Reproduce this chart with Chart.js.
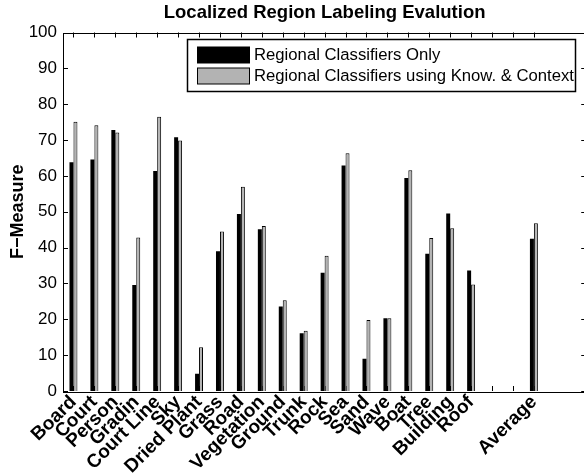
<!DOCTYPE html>
<html><head><meta charset="utf-8">
<script src="https://cdn.jsdelivr.net/npm/chart.js@4.4.1/dist/chart.umd.min.js"></script>
<style>
html,body{margin:0;padding:0;background:#fff;overflow:hidden}
#wrap{width:584px;height:474px;overflow:hidden;position:relative;background:#fff}
canvas{display:block}
</style></head>
<body><div id="wrap"><canvas id="c" width="592" height="474"></canvas></div>
<script>
const categories = ['Board','Court','Person','Gradin','Court Line','Sky','Dried Plant','Grass','Road','Vegetation','Ground','Trunk','Rock','Sea','Sand','Wave','Boat','Tree','Building','Roof','','','Average','',''];
const regionalOnly = [63.8,64.6,72.8,29.6,61.4,70.8,4.8,39.0,49.4,45.1,23.6,16.1,33.0,62.9,9.0,20.3,59.4,38.3,49.5,33.6,null,null,42.5,null,null];
const withKnowContext = [75.1,74.1,72.1,42.8,76.5,69.9,12.2,44.5,57.0,46.0,25.3,16.8,37.7,66.3,19.8,20.3,61.6,42.7,45.4,29.7,null,null,46.8,null,null];
const seriesNames = ['Regional Classifiers Only','Regional Classifiers using Know. & Context'];
const yTickValues = [0,10,20,30,40,50,60,70,80,90,100];
const xTickCount = 23;

const FONT = '"Liberation Sans", Arial, Helvetica, sans-serif';

const framePlugin = {
  id: 'frame',
  beforeDatasetsDraw(chart) {
    const {ctx, chartArea: a, scales: {x, y}} = chart;
    ctx.save();
    ctx.strokeStyle = '#000';
    ctx.lineWidth = 1;
    ctx.beginPath();
    const tl = 5;
    yTickValues.forEach(v => {
      const py = Math.round(y.getPixelForValue(v)) + 0.5;
      ctx.moveTo(a.left, py); ctx.lineTo(a.left + tl, py);
      ctx.moveTo(a.right, py); ctx.lineTo(a.right - tl, py);
    });
    for (let i = 0; i < xTickCount; i++) {
      const px = Math.round(x.getPixelForValue(i)) + 0.5;
      ctx.moveTo(px, a.bottom); ctx.lineTo(px, a.bottom - tl);
      ctx.moveTo(px, a.top); ctx.lineTo(px, a.top + tl);
    }
    ctx.stroke();
    ctx.restore();
  },
  afterDatasetsDraw(chart) {
    const {ctx, chartArea: a} = chart;
    ctx.save();
    ctx.strokeStyle = '#000';
    ctx.lineWidth = 1;
    ctx.strokeRect(Math.round(a.left) + 0.5, Math.round(a.top) + 0.5,
      Math.round(a.right - a.left), Math.round(a.bottom - a.top));
    ctx.restore();
  }
};

const legendPlugin = {
  id: 'boxLegend',
  afterDraw(chart) {
    const ctx = chart.ctx;
    const bx = 187.5, by = 39.5, bw = 388, bh = 52;
    ctx.save();
    ctx.fillStyle = '#fff';
    ctx.fillRect(bx, by, bw, bh);
    ctx.strokeStyle = '#000';
    ctx.lineWidth = 1.5;
    ctx.strokeRect(bx, by, bw, bh);
    ctx.font = '16.7px ' + FONT;
    ctx.textBaseline = 'middle';
    chart.data.datasets.forEach((ds, i) => {
      const cy = by + 15.5 + i * 21;
      ctx.fillStyle = ds.backgroundColor;
      ctx.fillRect(197.5, cy - 8, 52, 16);
      ctx.lineWidth = 1;
      ctx.strokeStyle = '#000';
      ctx.strokeRect(197.5, cy - 8, 52, 16);
      ctx.fillStyle = '#000';
      ctx.fillText(ds.label, 254, cy + 0.5);
    });
    ctx.restore();
  }
};

new Chart(document.getElementById('c'), {
  type: 'bar',
  data: {
    labels: categories,
    datasets: [
      {label: seriesNames[0], data: regionalOnly, backgroundColor: '#000', borderWidth: 0},
      {label: seriesNames[1], data: withKnowContext, backgroundColor: '#b3b3b3', borderColor: '#000', borderWidth: 1}
    ]
  },
  options: {
    responsive: false,
    animation: false,
    events: [],
    layout: {padding: {left: 0, right: 4, top: 0, bottom: 0}},
    datasets: {bar: {categoryPercentage: 0.38, barPercentage: 1}},
    plugins: {
      legend: {display: false},
      tooltip: {enabled: false},
      title: {
        display: true,
        text: 'Localized Region Labeling Evalution',
        fullSize: false,
        color: '#000',
        font: {family: FONT, size: 18.5, weight: 'bold', lineHeight: 1.2},
        padding: {top: 2, bottom: 8.3}
      }
    },
    scales: {
      x: {
        type: 'category',
        offset: true,
        grid: {display: false, drawTicks: false},
        border: {display: false},
        ticks: {
          autoSkip: false, maxRotation: 45, minRotation: 45, padding: 0,
          color: '#000', font: {family: FONT, size: 19, weight: 'bold'}
        },
        afterFit(s) { s.height = 83; }
      },
      y: {
        min: 0, max: 100,
        grid: {display: false, drawTicks: false},
        border: {display: false},
        ticks: {
          stepSize: 10, padding: 6, color: '#000',
          font: {family: FONT, size: 17}
        },
        title: {
          display: true, text: 'F\u2212Measure', color: '#000',
          font: {family: FONT, size: 18, weight: 'bold', lineHeight: 1.2},
          padding: {top: 7, bottom: 0}
        },
        afterFit(s) { s.width = 63; }
      }
    }
  },
  plugins: [framePlugin, legendPlugin]
});
</script>
</body></html>
